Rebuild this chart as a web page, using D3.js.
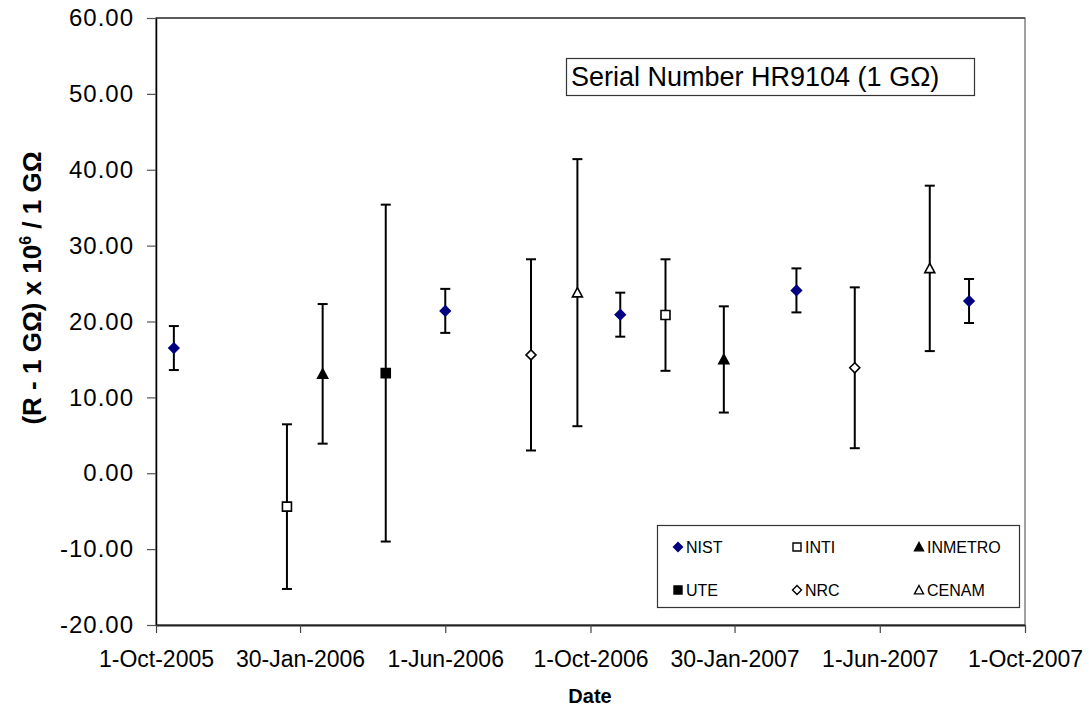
<!DOCTYPE html>
<html>
<head>
<meta charset="utf-8">
<script src="https://cdn.jsdelivr.net/npm/d3@7/dist/d3.min.js"></script>
<style>
  html, body { margin: 0; padding: 0; background: #fff; }
  svg { display: block; font-family: "Liberation Sans", Arial, sans-serif; }
</style>
</head>
<body>
<svg id="chart" width="1089" height="713"></svg>
<script>
// ---------------- data ----------------
const labNames = ["NIST", "INTI", "INMETRO", "UTE", "NRC", "CENAM"];

const nistDates  = ["2005-10-16", "2006-06-01", "2006-10-26", "2007-03-23", "2007-08-15"];
const nistValues = [16.5, 21.4, 20.9, 24.1, 22.7];
const nistErrors = [2.9, 2.9, 2.9, 2.9, 2.9];

const intiDates  = ["2006-01-19", "2006-12-03"];
const intiValues = [-4.4, 20.85];
const intiErrors = [10.85, 7.35];

const inmetroDates  = ["2006-02-18", "2007-01-21"];
const inmetroValues = [13.1, 15.0];
const inmetroErrors = [9.2, 7.0];

const uteDates  = ["2006-04-12"];
const uteValues = [13.2];
const uteErrors = [22.2];

const nrcDates  = ["2006-08-12", "2007-05-11"];
const nrcValues = [15.6, 13.9];
const nrcErrors = [12.6, 10.6];

const cenamDates  = ["2006-09-20", "2007-07-13"];
const cenamValues = [23.8, 27.0];
const cenamErrors = [17.6, 10.9];

const xTickDates = ["2005-10-01", "2006-01-30", "2006-06-01", "2006-10-01", "2007-01-30", "2007-06-01", "2007-10-01"];
const yTicks = [-20, -10, 0, 10, 20, 30, 40, 50, 60];

const titleText = "Serial Number HR9104 (1 G\u03A9)";
const xTitle = "Date";

// ---------------- setup ----------------
const parse = d3.utcParse("%Y-%m-%d");
const build = (name, dates, vals, errs) =>
  dates.map((d, i) => ({ lab: name, date: parse(d), v: vals[i], e: errs[i] }));

const seriesData = [
  build("NIST", nistDates, nistValues, nistErrors),
  build("INTI", intiDates, intiValues, intiErrors),
  build("INMETRO", inmetroDates, inmetroValues, inmetroErrors),
  build("UTE", uteDates, uteValues, uteErrors),
  build("NRC", nrcDates, nrcValues, nrcErrors),
  build("CENAM", cenamDates, cenamValues, cenamErrors)
];
const allPoints = seriesData.flat();

const styles = {
  NIST:    { shape: "diamond", fill: "#000080", stroke: "#000080" },
  INTI:    { shape: "square",  fill: "#ffffff", stroke: "#000000" },
  INMETRO: { shape: "triangle",fill: "#000000", stroke: "#000000" },
  UTE:     { shape: "square",  fill: "#000000", stroke: "#000000" },
  NRC:     { shape: "diamond", fill: "#ffffff", stroke: "#000000" },
  CENAM:   { shape: "triangle",fill: "#ffffff", stroke: "#000000" }
};

const svg = d3.select("#chart");
const L = 156, R = 1025, T = 18, B = 625;

const x = d3.scaleUtc()
  .domain([parse(xTickDates[0]), parse(xTickDates[xTickDates.length - 1])])
  .range([L, R]);
const y = d3.scaleLinear().domain([-20, 60]).range([B, T]);

function markerPath(shape, s) {
  const h = s / 2;
  if (shape === "diamond") return `M0,${-h}L${h},0L0,${h}L${-h},0Z`;
  if (shape === "square") return `M${-h},${-h}H${h}V${h}H${-h}Z`;
  if (shape === "triangle") return `M0,${-h}L${h},${h * 0.85}L${-h},${h * 0.85}Z`;
  return "";
}

// plot area border (gray)
svg.append("rect")
  .attr("x", L).attr("y", T).attr("width", R - L).attr("height", B - T)
  .attr("fill", "none").attr("stroke", "#808080").attr("stroke-width", 1.5);
svg.append("line").attr("x1", L).attr("x2", R).attr("y1", T).attr("y2", T)
  .attr("stroke", "#444").attr("stroke-width", 1.5);

// axes
const yAxis = d3.axisLeft(y).tickValues(yTicks).tickFormat(d => d.toFixed(2))
  .tickSizeOuter(0).tickSizeInner(9).tickPadding(13);
const yg = svg.append("g").attr("transform", `translate(${L},0)`).call(yAxis);
yg.select(".domain").attr("stroke", "#000").attr("stroke-width", 1.5);
yg.selectAll(".tick line").attr("stroke", "#555").attr("stroke-width", 1.2);
yg.selectAll(".tick text").attr("font-size", 24).attr("fill", "#000")
  .attr("letter-spacing", 1)
  .attr("font-family", "'Liberation Sans', Arial, sans-serif");

const fmtDate = d3.utcFormat("%-d-%b-%Y");
const xAxis = d3.axisBottom(x).tickValues(xTickDates.map(parse)).tickFormat(fmtDate)
  .tickSizeOuter(0).tickSizeInner(8).tickPadding(18);
const xg = svg.append("g").attr("transform", `translate(0,${B})`).call(xAxis);
xg.select(".domain").attr("stroke", "#222").attr("stroke-width", 1.8);
xg.selectAll(".tick line").attr("stroke", "#444").attr("stroke-width", 1.2);
xg.selectAll(".tick text").attr("font-size", 23).attr("fill", "#000")
  .attr("font-family", "'Liberation Sans', Arial, sans-serif");

// error bars
const eb = svg.append("g").attr("stroke", "#000").attr("stroke-width", 2).attr("fill", "none");
const cap = 5;
allPoints.forEach(p => {
  const cx = x(p.date);
  eb.append("line").attr("x1", cx).attr("x2", cx).attr("y1", y(p.v + p.e)).attr("y2", y(p.v - p.e));
  eb.append("line").attr("x1", cx - cap).attr("x2", cx + cap).attr("y1", y(p.v + p.e)).attr("y2", y(p.v + p.e));
  eb.append("line").attr("x1", cx - cap).attr("x2", cx + cap).attr("y1", y(p.v - p.e)).attr("y2", y(p.v - p.e));
});

// markers
svg.append("g").selectAll("path").data(allPoints).join("path")
  .attr("transform", d => `translate(${x(d.date)},${y(d.v)})`)
  .attr("d", d => markerPath(styles[d.lab].shape, styles[d.lab].shape === "square" ? 9 : 10))
  .attr("fill", d => styles[d.lab].fill)
  .attr("stroke", d => styles[d.lab].stroke)
  .attr("stroke-width", 1.6);

// title box
const tb = svg.append("g");
tb.append("rect").attr("x", 566.5).attr("y", 58.5).attr("width", 408).attr("height", 37)
  .attr("fill", "#fff").attr("stroke", "#333").attr("stroke-width", 1.2);
tb.append("text").attr("x", 571).attr("y", 86).attr("font-size", 27).attr("fill", "#000")
  .text(titleText);

// legend
const lg = svg.append("g");
lg.append("rect").attr("x", 657.5).attr("y", 525.5).attr("width", 362).attr("height", 82)
  .attr("fill", "#fff").attr("stroke", "#333").attr("stroke-width", 1.2);
const colX = [678, 797, 919];
const rowY = [547, 590];
labNames.forEach((name, i) => {
  const cx = colX[i % 3], cy = rowY[Math.floor(i / 3)];
  const st = styles[name];
  lg.append("path")
    .attr("transform", `translate(${cx},${cy})`)
    .attr("d", markerPath(st.shape, st.shape === "square" ? 8 : 9))
    .attr("fill", st.fill).attr("stroke", st.stroke).attr("stroke-width", 1.4);
  lg.append("text").attr("x", cx + 8).attr("y", cy + 5.5).attr("font-size", 16).attr("fill", "#000").text(name);
});

// axis titles
svg.append("text").attr("x", 590).attr("y", 703).attr("text-anchor", "middle")
  .attr("font-size", 20).attr("font-weight", "bold").text(xTitle);

const yt = svg.append("text")
  .attr("transform", `translate(41,288) rotate(-90)`)
  .attr("text-anchor", "middle").attr("font-size", 26).attr("font-weight", "bold");
yt.append("tspan").text("(R - 1 G\u03A9) x 10");
yt.append("tspan").attr("font-size", 16).attr("dy", -10).text("6");
yt.append("tspan").attr("dy", 10).text(" / 1 G\u03A9");
</script>
</body>
</html>
